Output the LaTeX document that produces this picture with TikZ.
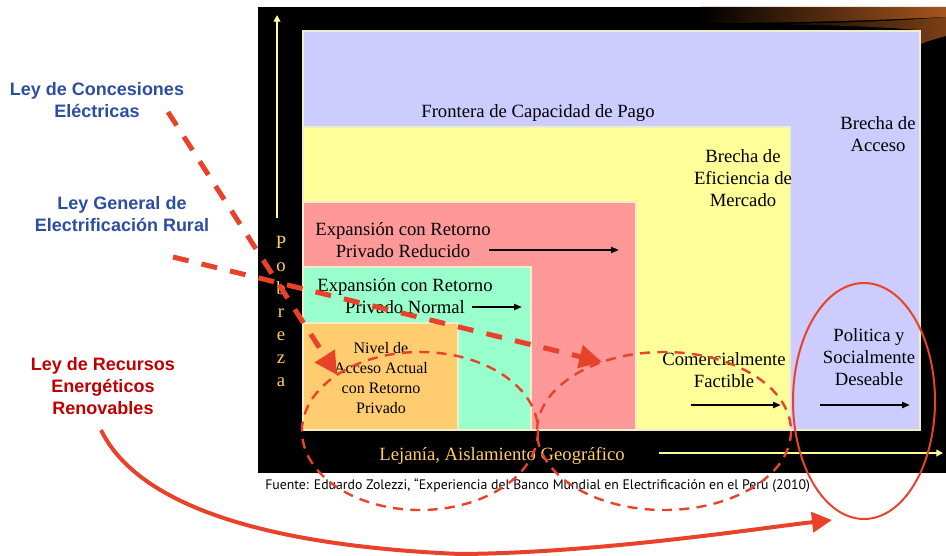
\documentclass[tikz,border=0pt]{standalone}
\usepackage{fontspec}
\setmainfont{Liberation Serif}
\newfontfamily\lawfont{Liberation Sans}
\newfontfamily\notefont{PT Sans}
\usetikzlibrary{arrows.meta,positioning}

\begin{document}
\begin{tikzpicture}[x=0.75pt,y=-0.75pt]
  % Colors
  \definecolor{lavbox}{RGB}{204,204,255}
  \definecolor{yelbox}{RGB}{255,255,153}
  \definecolor{pinkbox}{RGB}{255,153,153}
  \definecolor{greenbox}{RGB}{153,255,204}
  \definecolor{orangebox}{RGB}{255,204,112}
  \definecolor{zoneedge}{RGB}{238,238,200}
  \definecolor{axisgold}{RGB}{255,204,102}
  \definecolor{axisline}{RGB}{255,255,153}
  \definecolor{lawblue}{RGB}{44,78,160}
  \definecolor{lawred}{RGB}{192,0,0}
  \definecolor{markred}{RGB}{232,67,42}
  \definecolor{swoosh}{RGB}{165,85,30}

  % Styles
  \tikzstyle{zone}=[draw=zoneedge,line width=0.8pt]
  \tikzstyle{zone text}=[align=center,inner sep=0pt,font=\fontsize{14}{16.5}\selectfont]
  \tikzstyle{small zone text}=[align=center,inner sep=0pt,font=\fontsize{12}{14.8}\selectfont]
  \tikzstyle{axis text}=[text=axisgold,inner sep=0pt,font=\fontsize{14}{17.25}\selectfont]
  \tikzstyle{axis line}=[draw=axisline,line width=2.2pt,-{Triangle[length=5pt,width=5pt]}]
  \tikzstyle{shift arrow}=[line width=1.5pt,-{Triangle[length=6pt,width=4.5pt]}]
  \tikzstyle{law text}=[align=center,inner sep=0pt,font=\lawfont\bfseries\fontsize{13.5}{16.5}\selectfont]
  \tikzstyle{law dash}=[draw=markred,line width=3.75pt,dash pattern=on 12pt off 10pt,-{Triangle[length=17pt,width=17pt]}]
  \tikzstyle{law curve}=[draw=markred,line width=3pt,-{Triangle[length=15pt,width=15pt]}]
  \tikzstyle{reach}=[draw=markred,line width=1.8pt,dash pattern=on 7.5pt off 5.5pt]

  \useasboundingbox (0,0) rectangle (946,556);

  % The graphic
  \fill[black] (258,7) rectangle (946,473);
  \shade[left color=black,right color=swoosh] (700,7) -- (946,7) -- (946,17)
    .. controls (880,20) and (800,23) .. (700,23) -- cycle;
  \shade[left color=black,right color=swoosh!75!black] (760,24)
    .. controls (860,23) and (910,20) .. (946,17) -- (946,36)
    .. controls (935,39) and (925,42) .. (918,45) -- (918,30)
    .. controls (870,26) and (820,25) .. (760,24) -- cycle;

  % zones
  \filldraw[zone,fill=lavbox] (303,31) rectangle (920,430);
  \filldraw[zone,fill=yelbox] (303,127) rectangle (790,430);
  \filldraw[zone,fill=pinkbox] (303,202) rectangle (636,430);
  \filldraw[zone,fill=greenbox] (303,267) rectangle (531,430);
  \filldraw[zone,fill=orangebox] (303,323) rectangle (458,430);

  \node[zone text] (frontera) at (538,113) {Frontera de Capacidad de Pago};
  \node[zone text] (acceso) at (878,134) {Brecha de\\Acceso};
  \node[zone text] (eficiencia) at (743,178) {Brecha de\\Eficiencia de\\Mercado};
  \node[zone text] (reducido) at (403,240) {Expansión con Retorno\\Privado Reducido};
  \node[zone text] (normal) at (405,296) {Expansión con Retorno\\Privado Normal};
  \node[small zone text] (nivel) at (381,378) {Nivel de\\Acceso Actual\\con Retorno\\Privado};
  \node[zone text] (factible) at (724,370) {Comercialmente\\Factible};
  \node[zone text] (deseable) at (869,357) {Politica y\\Socialmente\\Deseable};

  \coordinate (reducido a) at (489,250);
  \coordinate (reducido b) at (619,250);
  \coordinate (normal a) at (472,307);
  \coordinate (normal b) at (522,307);
  \coordinate (factible a) at (691,405);
  \coordinate (factible b) at (781,405);
  \coordinate (deseable a) at (820,405);
  \coordinate (deseable b) at (910,405);
  \draw[shift arrow] (reducido a) -- (reducido b);
  \draw[shift arrow] (normal a) -- (normal b);
  \draw[shift arrow] (factible a) -- (factible b);
  \draw[shift arrow] (deseable a) -- (deseable b);

  % axes
  \coordinate (y foot) at (277,218);
  \coordinate (y head) at (277,15);
  \coordinate (x foot) at (659,453);
  \coordinate (x head) at (943,453);
  \draw[axis line] (y foot) -- (y head);
  \draw[axis line] (x foot) -- (x head);
  \node[axis text,align=center] (pobreza) at (281,311) {P\\o\\b\\r\\e\\z\\a};
  \node[axis text] (lejania) at (502,456) {Lejanía, Aislamiento Geográfico};
  \node[anchor=west,inner sep=0pt,font=\notefont\fontsize{10.35}{12}\selectfont]
    (fuente) at (265,486) {Fuente: Eduardo Zolezzi, “Experiencia del Banco Mundial en Electrificación en el Perú (2010)};

  % laws
  \node[law text,text=lawblue] (concesiones) at (97,100) {Ley de Concesiones\\Eléctricas};
  \node[law text,text=lawblue] (rural) at (122,214) {Ley General de\\Electrificación Rural};
  \node[law text,text=lawred] (renovables) at (103,386) {Ley de Recursos\\Energéticos\\Renovables};

  \draw[reach] (420,431) ellipse [x radius=118, y radius=79];
  \draw[reach] (664,431) ellipse [x radius=127, y radius=79];
  \draw[draw=markred,line width=1.5pt] (864,401) ellipse [x radius=71, y radius=118];

  \coordinate (concesiones start) at (168,112);
  \coordinate (concesiones tip) at (337,375);
  \coordinate (rural start) at (173,257);
  \coordinate (rural tip) at (602,362);
  \coordinate (renovables start) at (101,430);
  \coordinate (renovables tip) at (832,520);
  \draw[law dash] (concesiones start) -- (concesiones tip);
  \draw[law dash] (rural start) -- (rural tip);
  \draw[law curve] (renovables start) .. controls (135,500) and (250,545) .. (460,554)
    .. controls (600,553) and (760,528) .. (renovables tip);
\end{tikzpicture}
\end{document}
